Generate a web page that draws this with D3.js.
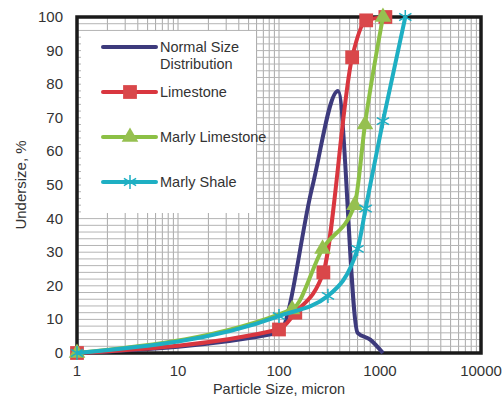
<!DOCTYPE html>
<html>
<head>
<meta charset="utf-8">
<script src="https://cdn.jsdelivr.net/npm/d3@7"></script>
<style>
  body { margin: 0; background: #fff; }
  text { font-family: "Liberation Sans", Arial, sans-serif; fill: #333; }
</style>
</head>
<body>
<div id="chart"></div>
<script>
// #DATA
var sizeNormal = [1, 100, 212, 384, 600, 800, 1070]
var normal = [0, 6, 49, 78, 6, 4, 0]

var sizeLimestone = [1, 100, 145, 275, 530, 730, 1130]
var limestone = [0, 7, 12, 24, 88, 99, 100]

var sizeMarlyLimestone = [1, 135, 270, 560, 710, 1070]
var marlyLimestone = [0, 13, 31, 44, 68, 100]

var sizeMarlyShale = [1, 100, 305, 600, 720, 1070, 1780]
var marlyShale = [0, 11, 17, 31, 43, 69, 100]

var seriesNames = ["Normal Size Distribution", "Limestone", "Marly Limestone", "Marly Shale"]
var xTicks = [1, 10, 100, 1000, 10000]
var yTicks = [0, 10, 20, 30, 40, 50, 60, 70, 80, 90, 100]

// #CHART
var width = 502,
    height = 396,
    plotLeft = 77, plotRight = 481, plotTop = 17, plotBottom = 353

var svg = d3.select("#chart")
  .append("svg")
    .attr("width", width)
    .attr("height", height)

var x = d3.scaleLog()
  .domain([1, 10000])
  .range([plotLeft, plotRight])

var y = d3.scaleLinear()
  .domain([0, 100])
  .range([plotBottom, plotTop])

// grid: minor lines every 1..9 per decade, horizontal every 2
var vGrid = []
for (var p = 0; p < 4; p++) {
  for (var k = 1; k < 10; k++) vGrid.push(k * Math.pow(10, p))
}
var hGrid = d3.range(0, 101, 2)

var grid = svg.append("g")
grid.selectAll("vline")
  .data(vGrid)
  .enter()
  .append("line")
    .attr("x1", function(d){ return x(d) })
    .attr("x2", function(d){ return x(d) })
    .attr("y1", plotTop)
    .attr("y2", plotBottom)
    .style("stroke", "#a8a8a8")
    .style("stroke-width", 1)
grid.selectAll("hline")
  .data(hGrid)
  .enter()
  .append("line")
    .attr("x1", plotLeft)
    .attr("x2", plotRight)
    .attr("y1", function(d){ return y(d) })
    .attr("y2", function(d){ return y(d) })
    .style("stroke", "#b4b4b4")
    .style("stroke-width", 1)

// legend background hides the grid behind it
svg.append("rect")
  .attr("x", 81)
  .attr("y", 31)
  .attr("width", 175)
  .attr("height", 182)
  .style("fill", "#fff")

// frame
svg.append("rect")
  .attr("x", plotLeft)
  .attr("y", plotTop)
  .attr("width", plotRight - plotLeft)
  .attr("height", plotBottom - plotTop)
  .style("fill", "none")
  .style("stroke", "#1a1a1a")
  .style("stroke-width", 3.5)

// tick labels
svg.selectAll("xlab")
  .data(xTicks)
  .enter()
  .append("text")
    .attr("x", function(d){ return x(d) })
    .attr("y", 376)
    .attr("text-anchor", "middle")
    .style("font-size", "15px")
    .text(function(d){ return d })

svg.selectAll("ylab")
  .data(yTicks)
  .enter()
  .append("text")
    .attr("x", 63)
    .attr("y", function(d){ return y(d) + 5 })
    .attr("text-anchor", "end")
    .style("font-size", "15px")
    .text(function(d){ return d })

// axis titles
svg.append("text")
  .attr("x", 279)
  .attr("y", 394)
  .attr("text-anchor", "middle")
  .style("font-size", "14.5px")
  .text("Particle Size, micron")

svg.append("text")
  .attr("transform", "translate(26,185) rotate(-90)")
  .attr("text-anchor", "middle")
  .style("font-size", "15px")
  .text("Undersize, %")

// series
var series = [
  { name: seriesNames[0], xs: sizeNormal, ys: normal, color: "#3d3a7c", marker: d3.symbolPlus, msize: 30, mfill: "#6a8cc0" },
  { name: seriesNames[1], xs: sizeLimestone, ys: limestone, color: "#d9363f", marker: d3.symbolSquare, msize: 190, mfill: "#d9474a" },
  { name: seriesNames[2], xs: sizeMarlyLimestone, ys: marlyLimestone, color: "#8cc045", marker: d3.symbolTriangle, msize: 120, mfill: "#96c050" },
  { name: seriesNames[3], xs: sizeMarlyShale, ys: marlyShale, color: "#1eafc3", marker: d3.symbolAsterisk, msize: 140, mfill: "#1eafc3" }
]

var line = d3.line()
  .x(function(d){ return x(d[0]) })
  .y(function(d){ return y(d[1]) })
  .curve(d3.curveMonotoneX)

series.forEach(function(s) {
  var pts = s.xs.map(function(v, i){ return [v, s.ys[i]] })
  svg.append("path")
    .datum(pts)
    .attr("d", line)
    .style("fill", "none")
    .style("stroke", s.color)
    .style("stroke-width", 4)
    .style("stroke-linejoin", "round")

  svg.selectAll("mk")
    .data(pts)
    .enter()
    .append("path")
      .attr("d", d3.symbol().type(s.marker).size(s.msize))
      .attr("transform", function(d){ return "translate(" + x(d[0]) + "," + y(d[1]) + ")" })
      .style("fill", s.marker === d3.symbolAsterisk ? "none" : s.mfill)
      .style("stroke", s.marker === d3.symbolAsterisk ? s.mfill : "none")
      .style("stroke-width", 1.5)
})

// legend
var legendY = [47, 92, 137, 182]
var legend = svg.selectAll("legend")
  .data(series)
  .enter()
  .append("g")
    .attr("transform", function(d, i){ return "translate(0," + legendY[i] + ")" })

legend.append("line")
  .attr("x1", 103)
  .attr("x2", 156)
  .style("stroke", function(d){ return d.color })
  .style("stroke-width", 4)
  .style("stroke-linecap", "round")

legend.append("path")
  .attr("d", function(d){ return d3.symbol().type(d.marker).size(d.msize)() })
  .attr("transform", "translate(130,0)")
  .style("fill", function(d){ return d.marker === d3.symbolAsterisk ? "none" : d.mfill })
  .style("stroke", function(d){ return d.marker === d3.symbolAsterisk ? d.mfill : "none" })
  .style("stroke-width", 1.5)

legend.append("text")
  .attr("x", 160)
  .attr("y", 5)
  .style("font-size", "14.5px")
  .text(function(d){ return d.name === seriesNames[0] ? "Normal Size" : d.name })

legend.filter(function(d){ return d.name === seriesNames[0] })
  .append("text")
    .attr("x", 160)
    .attr("y", 22)
    .style("font-size", "14.5px")
    .text("Distribution")
</script>
</body>
</html>
